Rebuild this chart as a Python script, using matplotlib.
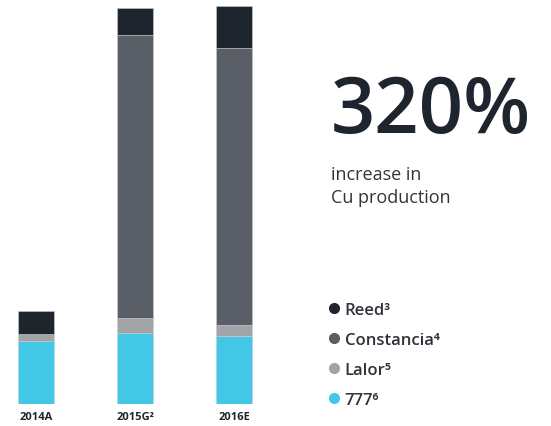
import matplotlib
matplotlib.use("Agg")
import matplotlib.pyplot as plt
from matplotlib.lines import Line2D
import numpy as np

plt.rcParams['font.family'] = ['Open Sans', 'DejaVu Sans']

# ---------- data ----------
years = ['2014A', '2015G²', '2016E']
mine_777 = [63, 71, 68]
lalor = [7, 15, 11]
constancia = [0, 283, 277]
reed = [23, 27, 42]

series_names = ['777⁶', 'Lalor⁵', 'Constancia⁴', 'Reed³']
series_colors = ['#42c8e6', '#a3a4a7', '#5a5e66', '#1f252d']

# ---------- figure ----------
W, H = 551, 427
fig = plt.figure(figsize=(W / 100, H / 100), dpi=100)

# bar axes: centres at 36/135/234 px, baseline 22 px above the bottom
ax = fig.add_axes([6.3 / W, 22 / H, 257.4 / W, 405 / H])
x = np.arange(len(years))
bottom = np.zeros(len(years))
for vals, col in zip([mine_777, lalor, constancia, reed], series_colors):
    ax.bar(x, vals, width=0.364, bottom=bottom, color=col,
           edgecolor='#c9ccd0', linewidth=0.4)
    bottom += np.array(vals)

ax.set_xlim(-0.3, 2.3)
ax.set_ylim(0, 405)
ax.set_yticks([])
ax.set_xticks(x)
ax.set_xticklabels(years, fontsize=8, fontweight='bold', color='#1f252d')
ax.tick_params(axis='x', length=0, pad=5)
for s in ax.spines.values():
    s.set_visible(False)

# headline figure
fig.text(331 / W, 1 - 133 / H, '320%', fontsize=56, fontweight='semibold',
         color='#1e252e', ha='left', va='baseline')
fig.text(331 / W, 1 - 180 / H, 'increase in', fontsize=13, color='#30353c',
         ha='left', va='baseline')
fig.text(331 / W, 1 - 203 / H, 'Cu production', fontsize=13, color='#30353c',
         ha='left', va='baseline')

# legend, Reed at the top
handles = [Line2D([], [], marker='o', linestyle='', markersize=7,
                  markerfacecolor=c, markeredgecolor=c)
           for c in series_colors[::-1]]
fig.legend(handles, series_names[::-1], loc='upper left',
           bbox_to_anchor=(314 / W, 1 - 288 / H), frameon=False,
           labelspacing=0.84, handlelength=0.6,
           handletextpad=0.35, labelcolor='#2e333a',
           prop={'family': ['Open Sans', 'DejaVu Sans'], 'size': 12,
                 'weight': 'semibold'})

fig.savefig('out.png', dpi=100)
